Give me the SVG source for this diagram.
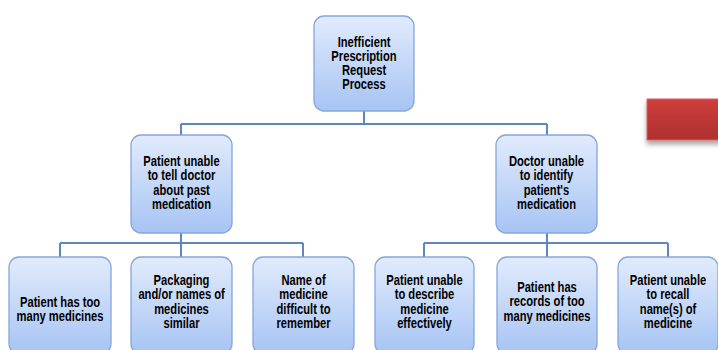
<svg xmlns="http://www.w3.org/2000/svg" width="718" height="350" viewBox="0 0 718 350">
<defs>
<linearGradient id="nodeGrad" x1="0" y1="0" x2="0" y2="1">
<stop offset="0" stop-color="#e1ebfc"/>
<stop offset="1" stop-color="#a7c4f4"/>
</linearGradient>
<linearGradient id="redGrad" x1="0" y1="0" x2="0" y2="1">
<stop offset="0" stop-color="#cd3f3c"/>
<stop offset="1" stop-color="#b02f2d"/>
</linearGradient>
<filter id="shadow" x="-20%" y="-20%" width="140%" height="160%">
<feGaussianBlur in="SourceAlpha" stdDeviation="2.5"/>
<feOffset dx="0" dy="4" result="b"/>
<feComponentTransfer><feFuncA type="linear" slope="0.35"/></feComponentTransfer>
<feMerge><feMergeNode/><feMergeNode in="SourceGraphic"/></feMerge>
</filter>
</defs>
<style>
.node{fill:url(#nodeGrad);stroke:#85a6da;stroke-width:1.3}
.conn{fill:none;stroke:#5f86c4;stroke-width:2}
text{font-family:"Liberation Sans Narrow","Arial Narrow","Liberation Sans",Arial,sans-serif;font-weight:bold;font-size:14px;fill:#000;text-anchor:middle;transform-box:fill-box;transform-origin:center;transform:scaleX(0.8)}
</style>
<rect width="718" height="350" fill="#ffffff"/>
<g id="connectors">
<path class="conn" d="M364 111 V124 M181 124 H547 M181 124 V135 M547 124 V135"/>
<path class="conn" d="M181 233 V243 M60 243 H303 M60 243 V257 M181 243 V257 M303 243 V257"/>
<path class="conn" d="M547 233 V243 M424 243 H668 M424 243 V257 M547 243 V257 M668 243 V257"/>
</g>
<g id="red-box">
<rect x="647" y="99" width="80" height="41" fill="url(#redGrad)" stroke="#d9605c" stroke-width="1" filter="url(#shadow)"/>
</g>
<g id="root">
<rect class="node" x="314" y="16" width="100" height="95" rx="10"/>
<text x="364" y="47">Inefficient</text>
<text x="364" y="61">Prescription</text>
<text x="364" y="75">Request</text>
<text x="364" y="89">Process</text>
</g>
<g id="left-mid">
<rect class="node" x="131" y="135" width="101" height="98" rx="10"/>
<text x="181.5" y="166">Patient unable</text>
<text x="181.5" y="180.5">to tell doctor</text>
<text x="181.5" y="195">about past</text>
<text x="181.5" y="209.5">medication</text>
</g>
<g id="right-mid">
<rect class="node" x="496" y="135" width="101" height="98" rx="10"/>
<text x="546.5" y="166">Doctor unable</text>
<text x="546.5" y="180.5">to identify</text>
<text x="546.5" y="195">patient's</text>
<text x="546.5" y="209.5">medication</text>
</g>
<g id="b1">
<rect class="node" x="9" y="257" width="102" height="97" rx="10"/>
<text x="60" y="307">Patient has too</text>
<text x="60" y="321.5">many medicines</text>
</g>
<g id="b2">
<rect class="node" x="131" y="257" width="101" height="97" rx="10"/>
<text x="181.5" y="285">Packaging</text>
<text x="181.5" y="299.5">and/or names of</text>
<text x="181.5" y="314">medicines</text>
<text x="181.5" y="328.5">similar</text>
</g>
<g id="b3">
<rect class="node" x="253" y="257" width="101" height="97" rx="10"/>
<text x="303.5" y="285">Name of</text>
<text x="303.5" y="299.5">medicine</text>
<text x="303.5" y="314">difficult to</text>
<text x="303.5" y="328.5">remember</text>
</g>
<g id="b4">
<rect class="node" x="375" y="257" width="99" height="97" rx="10"/>
<text x="424.5" y="285">Patient unable</text>
<text x="424.5" y="299.5">to describe</text>
<text x="424.5" y="314">medicine</text>
<text x="424.5" y="328.5">effectively</text>
</g>
<g id="b5">
<rect class="node" x="497" y="257" width="100" height="97" rx="10"/>
<text x="547" y="292">Patient has</text>
<text x="547" y="306.5">records of too</text>
<text x="547" y="321">many medicines</text>
</g>
<g id="b6">
<rect class="node" x="618" y="257" width="100" height="97" rx="10"/>
<text x="668" y="285">Patient unable</text>
<text x="668" y="299.5">to recall</text>
<text x="668" y="314">name(s) of</text>
<text x="668" y="328.5">medicine</text>
</g>
</svg>
